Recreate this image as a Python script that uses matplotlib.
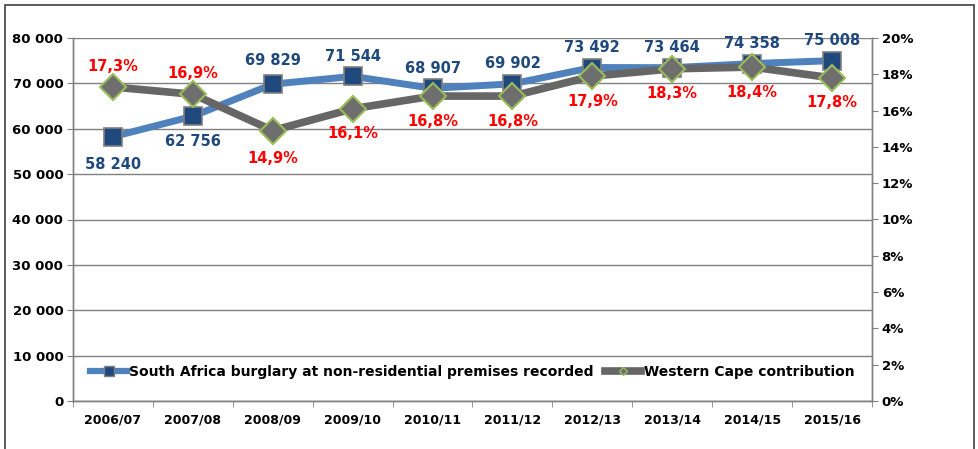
import matplotlib
matplotlib.use("Agg")
import matplotlib.pyplot as plt
from matplotlib.lines import Line2D
from matplotlib.patches import Rectangle
import numpy as np

categories = ["2006/07", "2007/08", "2008/09", "2009/10", "2010/11",
              "2011/12", "2012/13", "2013/14", "2014/15", "2015/16"]
sa_burglary = [58240, 62756, 69829, 71544, 68907, 69902, 73492, 73464, 74358, 75008]
wc_share = [17.3, 16.9, 14.9, 16.1, 16.8, 16.8, 17.9, 18.3, 18.4, 17.8]
sa_label_pos = ["below", "below", "above", "above", "above", "above", "above", "above", "above", "above"]
wc_label_pos = ["above", "above", "below", "below", "below", "below", "below", "below", "below", "below"]
left_ticks = [0, 10000, 20000, 30000, 40000, 50000, 60000, 70000, 80000]
right_ticks = [0, 2, 4, 6, 8, 10, 12, 14, 16, 18, 20]

plt.rcParams['font.family'] = ['DejaVu Sans']

fig = plt.figure(figsize=(9.79, 4.49), dpi=100)
fig.patches.append(Rectangle((5/979, -0.1), 969/979, 1.1 - 5/449, transform=fig.transFigure,
                             fill=False, edgecolor="#404040", linewidth=1.2))

ax = fig.add_axes([73/979, 48/449, 799/979, 363/449])
ax2 = ax.twinx()
x = np.arange(len(categories))

blue_line = "#4F81BD"
blue_mark = "#1F497D"
gray_line = "#666666"
gray_mark = "#6E6E6E"
green_edge = "#9BBB59"

ax.set_xlim(-0.5, len(categories) - 0.5)
ax.set_ylim(0, 80000)
ax2.set_ylim(0, 20)

ax.set_yticks(left_ticks)
ax.set_yticklabels([f"{v:,}".replace(",", " ") for v in left_ticks], fontsize=9.5, fontweight="bold")
ax2.set_yticks(right_ticks)
ax2.set_yticklabels([f"{v}%" for v in right_ticks], fontsize=9.5, fontweight="bold")
ax.set_xticks(x)
ax.set_xticklabels(categories, fontsize=9, fontweight="bold")
ax.set_xticks(np.arange(-0.5, len(categories), 1), minor=True)
ax.tick_params(axis="x", which="major", length=0, pad=9)
ax.tick_params(axis="x", which="minor", length=4, color="#808080")
ax.tick_params(axis="y", length=4, color="#808080", pad=3)
ax2.tick_params(axis="y", length=4, color="#808080", pad=3)

ax.grid(axis="y", color="#808080", linewidth=1.0)
ax.set_axisbelow(True)
for a in (ax, ax2):
    a.spines["top"].set_visible(False)
    for s in ["left", "right", "bottom"]:
        a.spines[s].set_color("#808080")
        a.spines[s].set_linewidth(1.0)

ax.plot(x, sa_burglary, color=blue_line, linewidth=5, marker="s", markersize=13.5,
        markerfacecolor=blue_mark, markeredgecolor="#7F7F7F", markeredgewidth=1.2, zorder=3)
ax2.plot(x, wc_share, color=gray_line, linewidth=5.5, marker="D", markersize=13,
         markerfacecolor=gray_mark, markeredgecolor=green_edge, markeredgewidth=1.5, zorder=4)

for i, (xi, v, pos) in enumerate(zip(x, sa_burglary, sa_label_pos)):
    if pos == "below":
        dy = -20 if i == 0 else -18
    else:
        dy = 17 if i == 2 else 14.5
    ax.annotate(f"{v:,}".replace(",", " "), (xi, v), xytext=(0, dy), textcoords="offset points",
                ha="center", va="center", color=blue_mark, fontsize=10.5, fontweight="bold", zorder=6)
for i, (xi, v, pos) in enumerate(zip(x, wc_share, wc_label_pos)):
    dy = (-20 if i == 2 else -18) if pos == "below" else 15
    ax2.annotate(f"{v:.1f}%".replace(".", ","), (xi, v), xytext=(0, dy), textcoords="offset points",
                 ha="center", va="center", color="#FF0000", fontsize=10.5, fontweight="bold", zorder=6)

handles = [
    Line2D([], [], color=blue_line, linewidth=4.5, marker="s", markersize=7,
           markerfacecolor=blue_mark, markeredgecolor="#7F7F7F"),
    Line2D([], [], color=gray_line, linewidth=5.5, marker="D", markersize=4,
           markerfacecolor=gray_mark, markeredgecolor=green_edge),
]
leg = ax2.legend(handles, ["South Africa burglary at non-residential premises recorded",
                           "Western Cape contribution"],
                 loc="center", bbox_to_anchor=(0.5, 0.081), ncol=2, frameon=True,
                 facecolor="white", edgecolor="none", framealpha=1, fancybox=False,
                 prop={"weight": "bold", "size": 10}, handlelength=2.6, handletextpad=0.2,
                 columnspacing=0.8, borderpad=0.2)
leg.set_zorder(10)

fig.savefig("out.png", dpi=100)
